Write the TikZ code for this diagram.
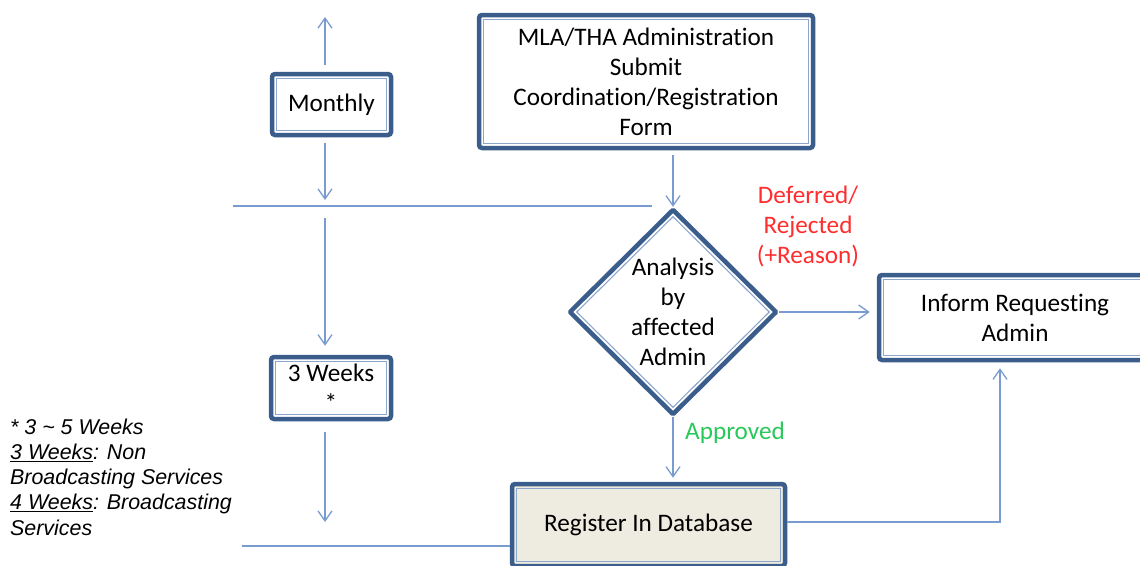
\documentclass[tikz,border=0pt]{standalone}
\usepackage{fontspec}
\setmainfont{Carlito}[Ligatures=NoCommon]
\newfontfamily\notefont{Liberation Sans}
\usetikzlibrary{shapes.geometric,arrows.meta}
\definecolor{frameblue}{RGB}{59,93,140}
\definecolor{innerblue}{RGB}{140,166,204}
\definecolor{lineblue}{RGB}{122,155,208}
\definecolor{dbfill}{RGB}{238,235,224}
\definecolor{rejectred}{RGB}{255,45,45}
\definecolor{approvegreen}{RGB}{40,200,90}
\begin{document}
\begin{tikzpicture}[x=1pt,y=-1pt,
    framed/.style={draw=frameblue,line width=4.5pt,rounded corners=3pt,fill=white,
      align=center,inner sep=0pt,font=\fontsize{25.2}{30}\selectfont},
    inner frame/.style={draw=innerblue,line width=1.1pt},
    flow/.style={draw=lineblue,line width=1.3pt},
    arr/.style={flow,-{Straight Barb[length=10pt,width=14pt]}},
    label text/.style={align=center,inner sep=0pt,font=\fontsize{25.2}{30}\selectfont}]
  \useasboundingbox (0,0) rectangle (1140,565);
  % boxes
  \node[framed,minimum width=119,minimum height=61] (monthly) at (331.5,104.5) {Monthly};
  \node[framed,minimum width=120,minimum height=62] (weeks) at (331,388) {3 Weeks\\*};
  \node[framed,minimum width=334,minimum height=133] (mla) at (646,81.5)
    {MLA/THA Administration\\Submit\\Coordination/Registration\\Form};
  \node[framed,diamond,rounded corners=1pt,minimum width=208,minimum height=206] (dia) at (673,312)
    {Analysis\\by\\affected\\Admin};
  \node[framed,minimum width=272,minimum height=85] (inform) at (1015,317.5) {Inform Requesting\\Admin};
  \node[framed,fill=dbfill,minimum width=273,minimum height=82] (register) at (648.5,525) {Register In Database};
  \foreach \n in {monthly,weeks,mla,inform,register}
    \draw[inner frame] ([shift={(7pt,-7pt)}]\n.north west) rectangle ([shift={(-7pt,7pt)}]\n.south east);
  \draw[inner frame] ([yshift=-10pt]dia.north) -- ([xshift=-10pt]dia.east)
    -- ([yshift=10pt]dia.south) -- ([xshift=10pt]dia.west) -- cycle;
  % labels
  \node[label text,text=rejectred] (reject) at (808,226) {Deferred/\\Rejected\\(+Reason)};
  \node[label text,text=approvegreen] (approved) at (735,433) {Approved};
  \node[anchor=west,align=left,inner sep=0pt,
    font=\notefont\itshape\fontsize{21.4}{25.2}\selectfont] (note) at (10,477)
    {* 3 \textasciitilde{} 5 Weeks\\\underline{3 Weeks}: Non\\Broadcasting Services\\
     \underline{4 Weeks}: Broadcasting\\Services};
  % connectors
  \coordinate (vtop) at (325,17);
  \coordinate (vbar) at (233,206);
  \coordinate (vbarend) at (652,206);
  \coordinate (vbase) at (242,546);
  \coordinate (riser) at (1000,522);
  \draw[arr,shorten <=7pt] (monthly.north -| vtop) -- (vtop);
  \draw[arr,shorten <=6pt,shorten >=6pt] (monthly.south -| vtop) -- (vbar -| vtop);
  \draw[flow] (vbar) -- (vbarend);
  \draw[arr,shorten <=12pt,shorten >=9pt] (vbar -| vtop) -- (weeks.north -| vtop);
  \draw[arr,shorten <=11pt,shorten >=24pt] (weeks.south -| vtop) -- (vbase -| vtop);
  \draw[flow] (vbase) -- (vbase -| register.west);
  \draw[arr,shorten <=5pt] (mla.south -| dia.north) -- (dia.north);
  \draw[arr,shorten >=7pt] (dia.east) -- (dia.east -| inform.west);
  \draw[arr,shorten >=4pt] (dia.south) -- (register.north -| dia.south);
  \draw[arr,shorten >=6pt] (register.east |- riser) -| (riser |- inform.south);
\end{tikzpicture}
\end{document}
